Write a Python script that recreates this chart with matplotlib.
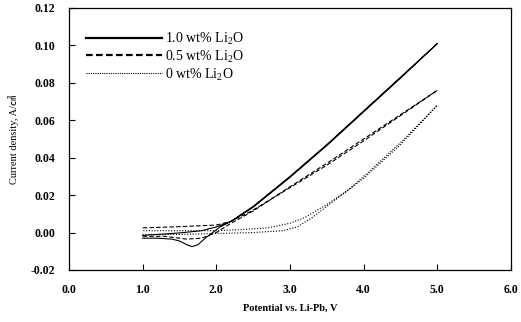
import matplotlib
matplotlib.use("Agg")
import matplotlib.pyplot as plt
from matplotlib.lines import Line2D

# cyclic scans, forward (1.0 -> 5.0 V) then reverse (5.0 -> 1.0 V)
v_10_fwd = [1.0, 1.2, 1.4, 1.5, 1.6, 1.67, 1.75, 1.85, 1.95, 2.05, 2.2, 2.5, 3.0, 3.5, 4.0, 4.5, 5.0]
i_10_fwd = [-0.003, -0.003, -0.0035, -0.0045, -0.0065, -0.0075, -0.0065, -0.003, 0.000, 0.003, 0.006,
            0.014, 0.030, 0.047, 0.065, 0.083, 0.101]
v_10_rev = [5.0, 4.5, 4.0, 3.5, 3.0, 2.5, 2.2, 2.0, 1.8, 1.5, 1.2, 1.0]
i_10_rev = [0.101, 0.0825, 0.0645, 0.0465, 0.0295, 0.0135, 0.006, 0.003, 0.001, -0.0002, -0.001, -0.0015]

v_05_fwd = [1.0, 1.3, 1.6, 1.8, 2.0, 2.2, 2.5, 3.0, 3.5, 4.0, 4.5, 5.0]
i_05_fwd = [-0.002, -0.002, -0.0035, -0.003, 0.000, 0.005, 0.0115, 0.0245, 0.037, 0.050, 0.063, 0.076]
v_05_rev = [5.0, 4.5, 4.0, 3.5, 3.0, 2.5, 2.2, 2.0, 1.7, 1.4, 1.0]
i_05_rev = [0.076, 0.0625, 0.049, 0.036, 0.024, 0.012, 0.006, 0.004, 0.0035, 0.003, 0.0025]

v_00_fwd = [1.0, 1.5, 2.0, 2.5, 2.9, 3.1, 3.3, 3.5, 3.8, 4.0, 4.5, 5.0]
i_00_fwd = [-0.001, -0.001, -0.0005, 0.000, 0.001, 0.003, 0.008, 0.014, 0.023, 0.030, 0.048, 0.068]
v_00_rev = [5.0, 4.5, 4.0, 3.8, 3.5, 3.2, 3.0, 2.7, 2.3, 2.0, 1.5, 1.0]
i_00_rev = [0.068, 0.047, 0.029, 0.023, 0.015, 0.008, 0.005, 0.0025, 0.0015, 0.001, 0.001, 0.001]

labels = ["1.0 wt% Li$_2$O", "0.5 wt% Li$_2$O", "0 wt% Li$_2$O"]
x_ticks = [0.0, 1.0, 2.0, 3.0, 4.0, 5.0, 6.0]
y_ticks = [-0.02, 0.00, 0.02, 0.04, 0.06, 0.08, 0.10, 0.12]

plt.rcParams['font.family'] = ['Liberation Serif', 'Noto Sans CJK SC']
plt.rcParams['mathtext.fontset'] = 'custom'
plt.rcParams['mathtext.rm'] = 'Liberation Serif'

fig = plt.figure(figsize=(5.21, 3.22), dpi=100)
ax = fig.add_subplot(111)
fig.subplots_adjust(left=0.1324, right=0.9808, top=0.9752, bottom=0.1615)

styles = ['-', (0, (4, 2)), (0, (1, 1.5))]
series = [
    (v_10_fwd + v_10_rev, i_10_fwd + i_10_rev),
    (v_05_fwd + v_05_rev, i_05_fwd + i_05_rev),
    (v_00_fwd + v_00_rev, i_00_fwd + i_00_rev),
]
for (v, i), ls in zip(series, styles):
    ax.plot(v, i, color='black', linestyle=ls, linewidth=0.8)

# legend handles drawn a bit heavier, as in the original
handles = [Line2D([], [], color='black', linestyle='-', linewidth=1.6),
           Line2D([], [], color='black', linestyle=(0, (3, 1.5)), linewidth=1.6),
           Line2D([], [], color='black', linestyle=(0, (1, 1)), linewidth=0.8)]
ax.legend(handles, labels, loc='upper left', bbox_to_anchor=(0.025, 0.935), frameon=False,
          fontsize=10, handlelength=5.5, handletextpad=0.2, labelspacing=0.1, borderaxespad=0)

ax.set_xlim(0, 6)
ax.set_ylim(-0.02, 0.12)
ax.set_xticks(x_ticks)
ax.set_yticks(y_ticks)
ax.set_xticklabels([f"{t:.1f}" for t in x_ticks], fontweight='bold', fontsize=8.5)
ax.set_yticklabels([f"{t:.2f}" for t in y_ticks], fontweight='bold', fontsize=8.5)
ax.tick_params(direction='in', length=4, width=0.8, pad=10)

ax.set_xlabel("Potential vs. Li-Pb, V", fontweight='bold', fontsize=7.5, labelpad=6)
ax.set_ylabel("Current density, A/㎠", fontsize=7.5, labelpad=8)

for s in ax.spines.values():
    s.set_linewidth(0.9)

fig.savefig("out.png", dpi=100)
